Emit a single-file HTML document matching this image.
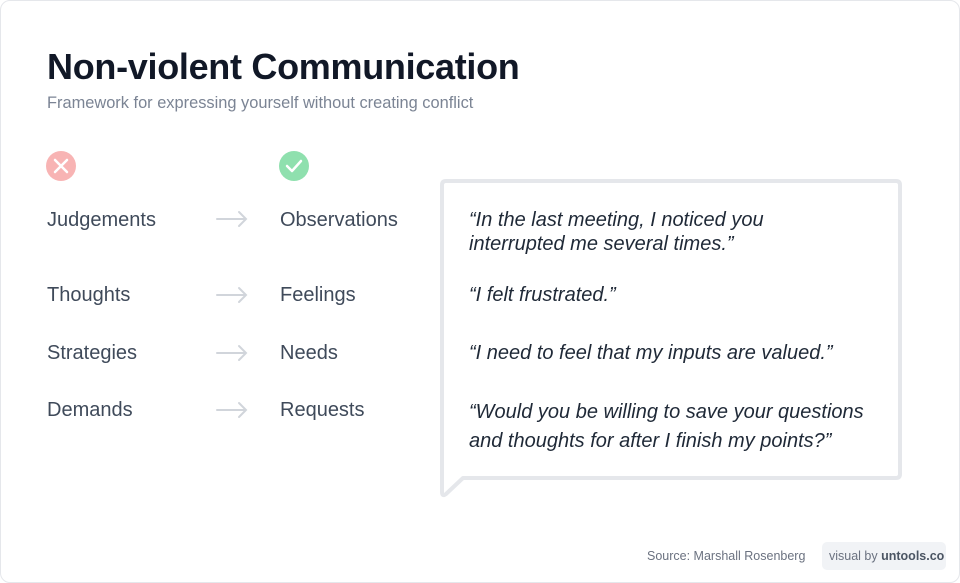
<!DOCTYPE html>
<html><head><meta charset="utf-8"><style>
*{margin:0;padding:0;box-sizing:border-box}
body{width:960px;height:583px;background:#fff;font-family:"Liberation Sans",sans-serif;position:relative;overflow:hidden}
.frame{position:absolute;left:0;top:0;width:960px;height:583px;border:1px solid #e5e7eb;border-radius:10px}
.t{position:absolute;white-space:nowrap}
h1{position:absolute;left:47px;top:46px;font-size:36px;font-weight:bold;color:#111827;letter-spacing:-0.3px}
.sub{left:47px;top:94px;font-size:16.4px;color:#7b8494}
.l{font-size:20px;color:#3f4a5a}
.q{font-size:20px;color:#1f2937;font-style:italic;left:469px}
</style></head><body>
<div class="frame"></div>
<h1>Non-violent Communication</h1>
<div class="t sub">Framework for expressing yourself without creating conflict</div>
<svg style="position:absolute;left:0;top:0" width="960" height="583">
<circle cx="61" cy="166" r="15" fill="#f8b4b4"/>
<path d="M55 160 L67 172 M67 160 L55 172" stroke="#fff" stroke-width="2.5" stroke-linecap="round"/>
<circle cx="294" cy="166" r="15" fill="#8fe0ae"/>
<path d="M287 166 L292 171 L301 161" stroke="#fff" stroke-width="2.5" fill="none" stroke-linecap="round" stroke-linejoin="round"/>
<g stroke="#d1d5db" stroke-width="2" fill="none" stroke-linecap="round">
<path d="M217 219 H246 M239 212 L246 219 L239 226"/>
<path d="M217 295 H246 M239 288 L246 295 L239 302"/>
<path d="M217 353 H246 M239 346 L246 353 L239 360"/>
<path d="M217 410 H246 M239 403 L246 410 L239 417"/>
</g>
<path d="M446 181 H896 Q900 181 900 185 V474 Q900 478 896 478 H463 L446 494 Q442 497 442 492 V185 Q442 181 446 181 Z" fill="#fff" stroke="#e5e7eb" stroke-width="4" stroke-linejoin="round"/>
<rect x="822" y="542" width="124" height="28" rx="5" fill="#f1f3f6"/>
</svg>
<div class="t l" style="left:47px;top:209px">Judgements</div>
<div class="t l" style="left:280px;top:209px">Observations</div>
<div class="t l" style="left:47px;top:284px">Thoughts</div>
<div class="t l" style="left:280px;top:284px">Feelings</div>
<div class="t l" style="left:47px;top:342px">Strategies</div>
<div class="t l" style="left:280px;top:342px">Needs</div>
<div class="t l" style="left:47px;top:399px">Demands</div>
<div class="t l" style="left:280px;top:399px">Requests</div>
<div class="t q" style="top:208px;line-height:24px">“In the last meeting, I noticed you<br>interrupted me several times.”</div>
<div class="t q" style="top:284px">“I felt frustrated.”</div>
<div class="t q" style="top:342px">“I need to feel that my inputs are valued.”</div>
<div class="t q" style="top:398px;line-height:29px">“Would you be willing to save your questions<br>and thoughts for after I finish my points?”</div>
<div class="t" style="left:647px;top:549px;font-size:12.5px;color:#6b7280">Source: Marshall Rosenberg</div>
<div class="t" style="left:829px;top:549px;font-size:12.5px;color:#6b7280">visual by <b style="color:#4b5563">untools.co</b></div>
</body></html>
